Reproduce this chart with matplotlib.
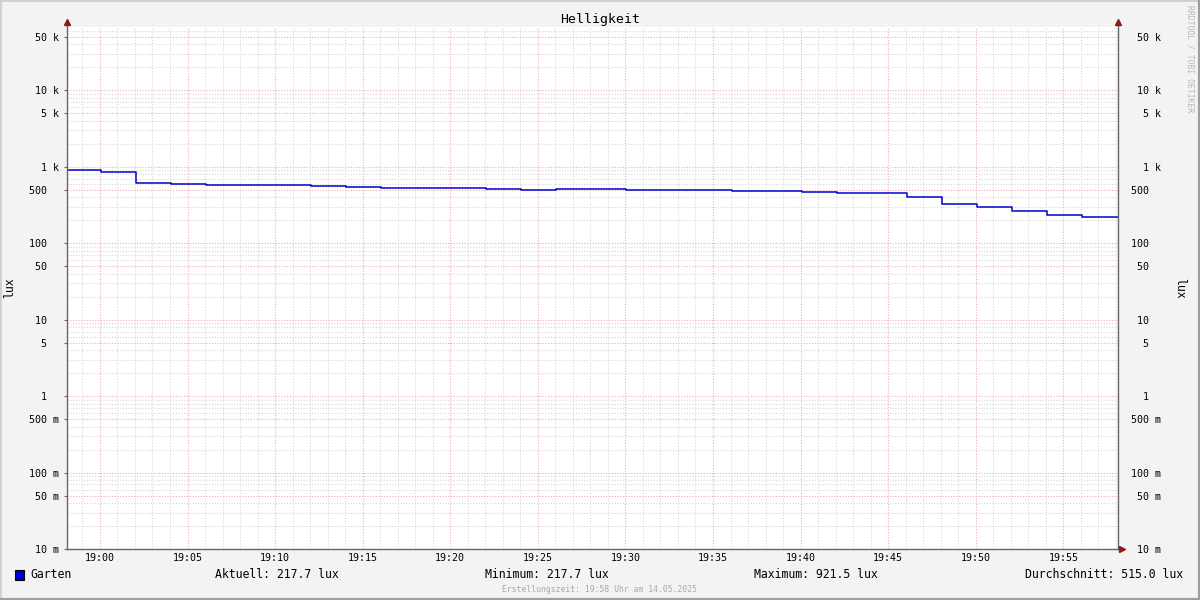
import matplotlib.pyplot as plt
from matplotlib.patches import Rectangle
from matplotlib.lines import Line2D

# Messzeitpunkte in Minuten relativ zu 19:00, Helligkeit in lux
zeit_min = [-1.94, 0.06, 2.06, 4.06, 6.06, 8.06, 10.06, 12.06, 14.06, 16.06,
            18.06, 20.06, 22.06, 24.06, 26.06, 28.06, 30.06, 32.06, 34.06, 36.06,
            38.06, 40.06, 42.06, 44.06, 46.06, 48.06, 50.06, 52.06, 54.06, 56.06]
lux = [921.5, 858, 616, 598, 580, 580, 580, 567, 552, 535,
       535, 535, 514, 499, 514, 514, 499, 499, 499, 484,
       484, 471, 456, 456, 408, 328, 300, 266, 238, 217.7]

x_ticks = [0, 5, 10, 15, 20, 25, 30, 35, 40, 45, 50, 55]
x_labels = ['19:00', '19:05', '19:10', '19:15', '19:20', '19:25',
            '19:30', '19:35', '19:40', '19:45', '19:50', '19:55']
y_ticks = [0.01, 0.05, 0.1, 0.5, 1, 5, 10, 50, 100, 500, 1e3, 5e3, 1e4, 5e4]
y_nums = ['10', '50', '100', '500', '1', '5', '10', '50', '100', '500', '1', '5', '10', '50']
y_units = ['m', 'm', 'm', 'm', '', '', '', '', '', '', 'k', 'k', 'k', 'k']

aktuell = 217.7
minimum = 217.7
maximum = 921.5
durchschnitt = 515.0

plt.rcParams['font.family'] = ['DejaVu Sans Mono']

fig = plt.figure(figsize=(12, 6), dpi=100, facecolor='#f3f3f3')
ax = fig.add_axes([67 / 1200, 51 / 600, 1051 / 1200, 522 / 600])
ax.set_facecolor('white')
ax.set_yscale('log')
xmin, xmax = -1.88, 58.12
ymin, ymax = 0.01, 10 ** 4.83

# Treppenlinie bis zum rechten Rand verlängern
ax.step(zeit_min + [xmax], lux + [lux[-1]], where='post', color='#0000cc', lw=1.1, zorder=3)

# Gitter: grau jede Minute / 2..9, rot alle 5 Minuten / 1 und 5
minor_x = [m for m in range(-1, 59) if m % 5 != 0]
minor_y = [f * 10.0 ** e for e in range(-2, 5) for f in (2, 3, 4, 6, 7, 8, 9)]
ax.set_xticks(x_ticks)
ax.set_xticks(minor_x, minor=True)
ax.set_yticks(y_ticks)
ax.set_yticks(minor_y, minor=True)
ax.grid(which='minor', color='#d8d8d8', lw=0.8, ls=(0, (1, 1.5)))
ax.grid(which='major', color='#ebb0b0', lw=0.8, ls=(0, (1, 1.5)))
ax.set_axisbelow(True)

ax.set_xticklabels(x_labels, fontsize=7.2)
labels = [f'{n:>3} {u}' for n, u in zip(y_nums, y_units)]
ax.set_yticklabels(labels, fontsize=7.2, ha='left')
ax.tick_params(axis='x', which='both', length=0, pad=3)
ax.tick_params(axis='y', which='minor', length=0)
ax.tick_params(axis='y', which='major', length=2, color='#666666', pad=25.2)

# Grenzen erst nach den Ticks setzen (set_yticks würde sie sonst erweitern)
ax.set_xlim(xmin, xmax)
ax.set_ylim(ymin, ymax)

rechts = ax.secondary_yaxis('right')
rechts.set_yticks(y_ticks)
rechts.set_yticks([], minor=True)
rechts.set_yticklabels(labels, fontsize=7.2, ha='left')
rechts.tick_params(axis='y', length=0, pad=9.4)
rechts.spines['right'].set_visible(False)

for s in ax.spines.values():
    s.set_visible(False)

# Achsen mit Pfeilen
achs = '#666666'
pfeil = '#8b1a1a'
ax.plot([0, 0], [0, 1.0096], transform=ax.transAxes, color=achs, lw=1, clip_on=False, zorder=4)
ax.plot([1, 1], [0, 1.0096], transform=ax.transAxes, color=achs, lw=1, clip_on=False, zorder=4)
ax.plot([0, 1.0038], [0, 0], transform=ax.transAxes, color=achs, lw=1, clip_on=False, zorder=4)
ax.plot([0, 1], [1.0096, 1.0096], transform=ax.transAxes, ls='none', marker='^',
        ms=4.5, color=pfeil, clip_on=False, zorder=5)
ax.plot([1.0038], [0], transform=ax.transAxes, ls='none', marker='>',
        ms=4.5, color=pfeil, clip_on=False, zorder=5)
ax.set_xlim(xmin, xmax)
ax.set_ylim(ymin, ymax)

fig.text(0.5, 1 - 19 / 600, 'Helligkeit', ha='center', va='center', fontsize=9.5)
fig.text(10 / 1200, 1 - 288 / 600, 'lux', rotation=90, ha='center', va='center', fontsize=8.3)
fig.text(1180 / 1200, 1 - 288 / 600, 'lux', rotation=270, ha='center', va='center', fontsize=8.3)
fig.text(1190 / 1200, 1 - 5 / 600, 'RRDTOOL / TOBI OETIKER', rotation=270, ha='center', va='top',
         fontsize=5.8, color='#b8b8b8')

# Legende
fig.patches.append(Rectangle((15 / 1200, 1 - 580 / 600), 9 / 1200, 10 / 600, transform=fig.transFigure,
                             facecolor='#0000cc', edgecolor='black', lw=0.8))
y_leg = 1 - 575 / 600
fig.text(30 / 1200, y_leg, 'Garten', va='center', fontsize=8.3)
fig.text(215 / 1200, y_leg, f'Aktuell: {aktuell:.1f} lux', va='center', fontsize=8.3)
fig.text(485 / 1200, y_leg, f'Minimum: {minimum:.1f} lux', va='center', fontsize=8.3)
fig.text(754 / 1200, y_leg, f'Maximum: {maximum:.1f} lux', va='center', fontsize=8.3)
fig.text(1183 / 1200, y_leg, f'Durchschnitt: {durchschnitt:.1f} lux', ha='right', va='center', fontsize=8.3)
fig.text(0.5, 1 - 589 / 600, 'Erstellungszeit: 19:58 Uhr am 14.05.2025', ha='center', va='center',
         fontsize=5.8, color='#a8a8a8')

# Rahmen
fig.lines.append(Line2D([0, 0, 1], [0, 1, 1], transform=fig.transFigure, color='#cfcfcf', lw=2))
fig.lines.append(Line2D([0, 1, 1], [0, 0, 1], transform=fig.transFigure, color='#9e9e9e', lw=3))

fig.savefig('out.png', dpi=100, facecolor=fig.get_facecolor())
